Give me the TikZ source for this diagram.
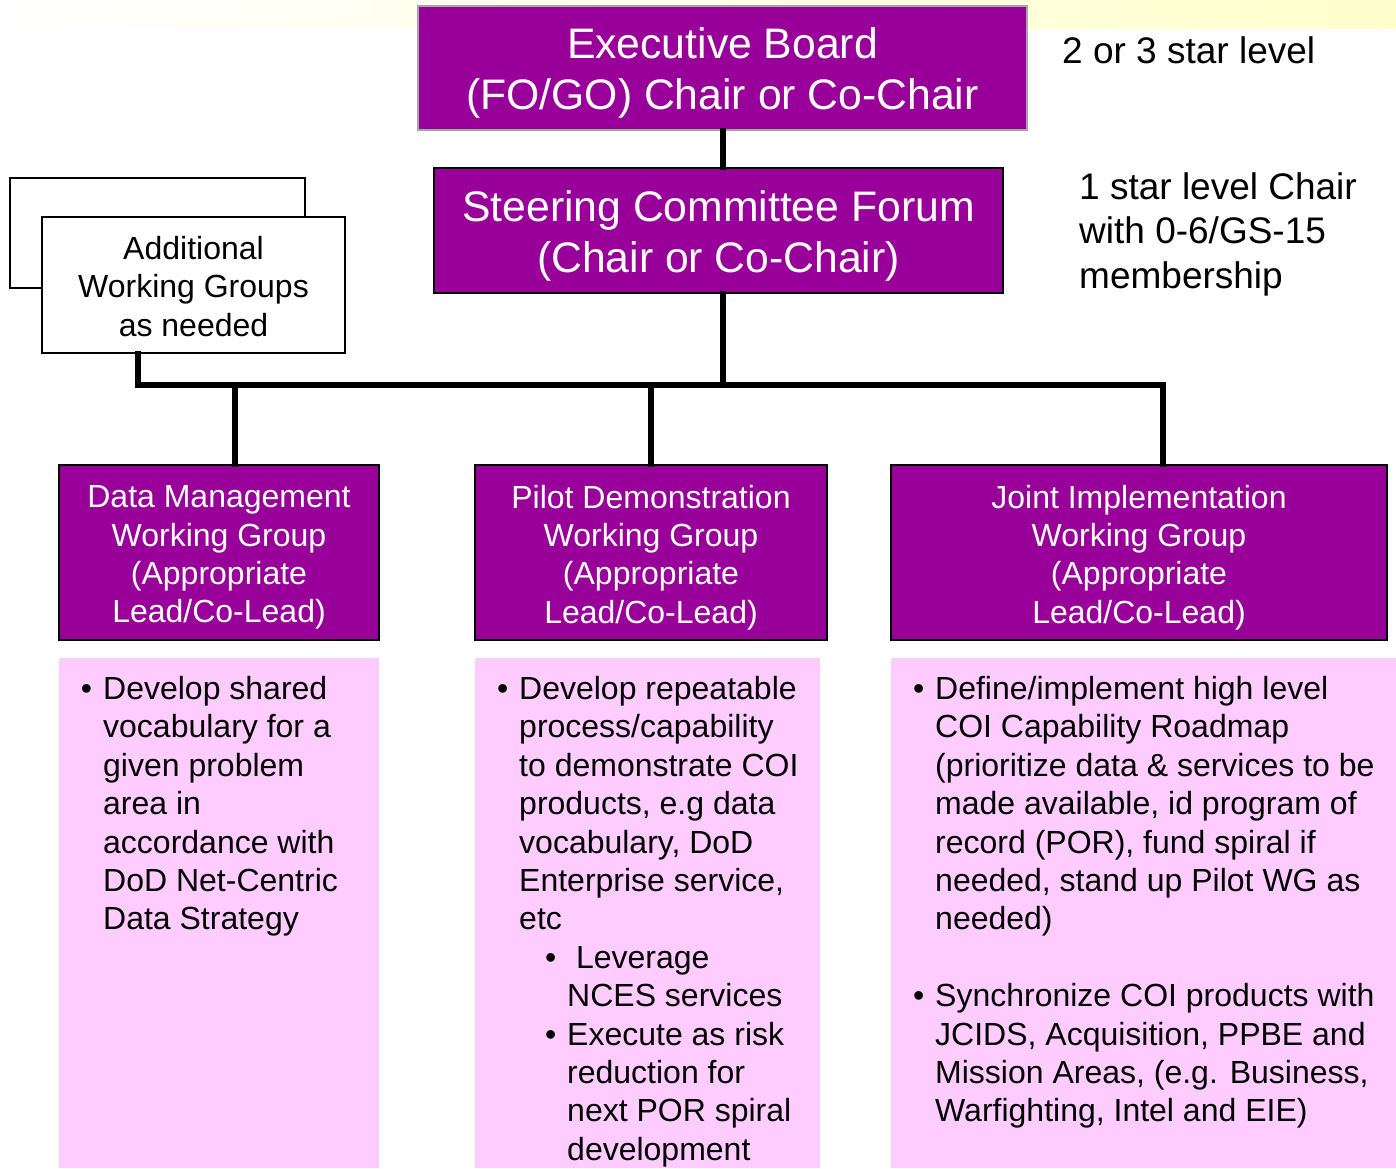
\documentclass[tikz,border=0pt]{standalone}
\usepackage{fontspec}
\setmainfont{Liberation Sans}
\definecolor{purp}{HTML}{990099}
\definecolor{pinkbg}{HTML}{FFCCFF}
\definecolor{exborder}{HTML}{A6A6A6}
\definecolor{bandyellow}{HTML}{FFFFCC}
\newcommand\myfs[2]{\fontsize{#1}{#2}\selectfont}
\newcommand\bul{\llap{•\hspace{11pt}}}
\begin{document}
\begin{tikzpicture}[x=1pt,y=-1pt,
  purplebox/.style={draw=black, line width=2pt, fill=purp, inner sep=0pt},
  topbox/.style={purplebox, draw=exborder},
  whitebox/.style={draw=black, line width=2pt, fill=white, inner sep=0pt},
  boxlabel/.style={align=center, inner sep=0pt},
  whitelabel/.style={boxlabel, text=white},
  pinkbox/.style={fill=pinkbg, draw=none, inner sep=0pt},
  bodytext/.style={anchor=north west, align=left, inner sep=0pt, font=\myfs{32}{38.4}},
  sidetext/.style={align=left, inner sep=0pt, font=\myfs{37}{44.5}},
  headtext/.style={font=\myfs{32}{38.4}},
  conn/.style={line width=5.5pt, line join=miter, line cap=rect}]
\useasboundingbox (0,0) rectangle (1396,1168);
% top band
\shade[left color=white, right color=bandyellow] (0,0) rectangle (1396,28);
% additional working groups
\node[whitebox, minimum width=295pt, minimum height=110pt] (addback) at (157.5,233) {};
\node[whitebox, minimum width=303pt, minimum height=136pt] (addfront) at (193.5,285) {};
\node[boxlabel, font=\myfs{32}{38.4}, yshift=-1.5pt] (addtxt) at (addfront.center)
  {Additional\\Working Groups\\as needed};
% top boxes
\node[topbox, minimum width=609pt, minimum height=124pt] (exec) at (722.5,68) {};
\node[whitelabel, font=\myfs{42.7}{51}, yshift=-5pt] (exectxt) at (exec.center)
  {Executive Board\\(FO/GO) Chair or Co-Chair};
\node[purplebox, minimum width=569pt, minimum height=125pt] (steer) at (718.5,230.5) {};
\node[whitelabel, font=\myfs{42.7}{51}, yshift=-5.5pt] (steertxt) at (steer.center)
  {Steering Committee Forum\\(Chair or Co-Chair)};
% side labels
\node[sidetext, anchor=west] (lvl2) at (1062,50) {2 or 3 star level};
\node[sidetext, anchor=north west] (lvl1) at (1079,172) {1 star level Chair\\with 0-6/GS-15\\membership};
% working group headers
\node[purplebox, minimum width=320pt, minimum height=175pt] (data) at (219,552.5) {};
\node[whitelabel, headtext, yshift=-5pt] (datahd) at (data.center)
  {Data Management\\Working Group\\(Appropriate\\Lead/Co-Lead)};
\node[purplebox, minimum width=352pt, minimum height=175pt] (pilot) at (651,552.5) {};
\node[whitelabel, headtext, yshift=-5pt] (pilothd) at (pilot.center)
  {Pilot Demonstration\\Working Group\\(Appropriate\\Lead/Co-Lead)};
\node[purplebox, minimum width=496pt, minimum height=175pt] (joint) at (1139,552.5) {};
\node[whitelabel, headtext, yshift=-5pt] (jointhd) at (joint.center)
  {Joint Implementation\\Working Group\\(Appropriate\\Lead/Co-Lead)};
% connectors
\coordinate (hub) at (723,385);
\coordinate (busR) at (1163,385);
\draw[conn] (exec.south -| hub) -- (steer.north -| hub);
\draw[conn] (steer.south -| hub) -- (hub);
\draw[conn] ([xshift=97pt]addfront.south west) |- (busR) -- (busR |- joint.north);
\draw[conn] (235,385) -- (235,464);
\draw[conn] (pilot.north) -- (pilot.north |- hub);
% pink boxes
\node[pinkbox, minimum width=320pt, minimum height=510pt] (datapink) at (219,913) {};
\node[pinkbox, minimum width=345pt, minimum height=510pt] (pilotpink) at (647.5,913) {};
\node[pinkbox, minimum width=505pt, minimum height=510pt] (jointpink) at (1143.5,913) {};
% body texts
\node[bodytext] (datatext) at (103,676)
  {\bul Develop shared\\vocabulary for a\\given problem\\area in\\accordance with\\DoD Net-Centric\\Data Strategy};
\node[bodytext] (pilottext) at (519,676)
  {\bul Develop repeatable\\process/capability\\to demonstrate COI\\products, e.g data\\vocabulary, DoD\\Enterprise service,\\etc\\
   \hspace*{48pt}\bul\ Leverage\\
   \hspace*{48pt}NCES services\\
   \hspace*{48pt}\bul Execute as risk\\
   \hspace*{48pt}reduction for\\
   \hspace*{48pt}next POR spiral\\
   \hspace*{48pt}development};
\node[bodytext] (jointtext) at (935,676)
  {\bul Define/implement high level\\COI Capability Roadmap\\(prioritize data \& services to be\\made available, id program of\\record (POR), fund spiral if\\needed, stand up Pilot WG as\\needed)\\[38.4pt]
   \bul Synchronize COI products with\\JCIDS, Acquisition, PPBE and\\Mission Areas, (e.g. Business,\\Warfighting, Intel and EIE)};
\end{tikzpicture}
\end{document}
